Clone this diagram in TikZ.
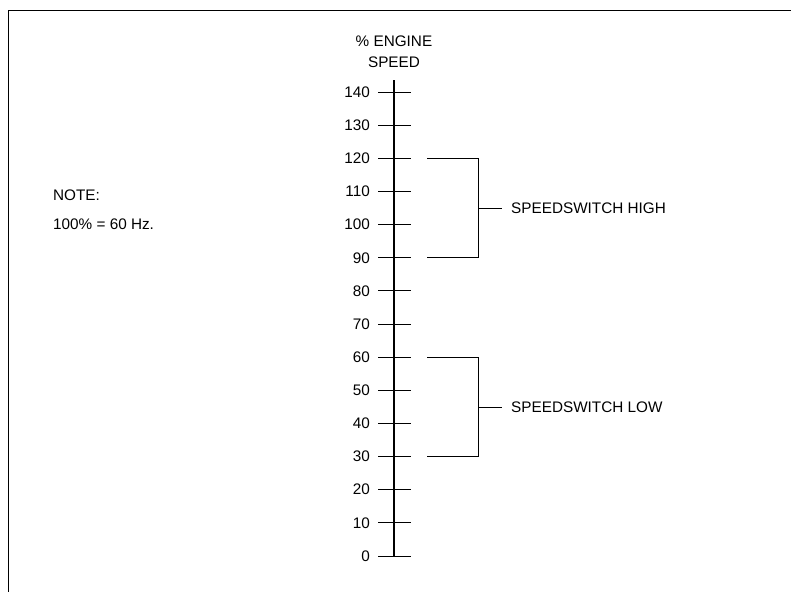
\documentclass[tikz,border=0pt]{standalone}
\usepackage{fontspec}
\setmainfont{Liberation Sans}
\usetikzlibrary{positioning}

\begin{document}
\begin{tikzpicture}[
    x=1pt, y=-1pt,
    axis/.style={line width=1.3pt},
    tick/.style={line width=1pt},
    bracket/.style={line width=1pt},
    num/.style={inner sep=0pt, font=\fontsize{15.3}{18}\selectfont},
    label/.style={anchor=west, inner sep=0pt, font=\fontsize{15.3}{21}\selectfont}
]

\useasboundingbox (0,0) rectangle (791,592);

% Frame
\draw[line width=1pt] (791,10) -- (8,10) -- (8,592);

% Axis
\coordinate (top) at (394,80);
\coordinate (bottom) at (394,556);
\draw[axis] (top) -- (bottom);
\node[num, align=center, font=\fontsize{15.3}{21}\selectfont] (title) at (394,52) {\% ENGINE\\SPEED};

\foreach \v in {0,10,...,140} {
  \coordinate (p\v) at (394,{556-\v*3.314});
  \draw[tick] ([xshift=-16pt]p\v) -- ([xshift=17pt]p\v);
  \node[num, left=24pt of p\v] (n\v) {\v};
}

% Labels
\node[label] (high) at (511,208) {SPEEDSWITCH HIGH};
\node[label] (low) at (511,407) {SPEEDSWITCH LOW};
\node[label] (note) at (53,195) {NOTE:};
\node[label] (ratio) at (53,224) {100\% = 60 Hz.};

% Brackets
\coordinate (himid) at (478,208);
\coordinate (lomid) at (478,407);
\draw[bracket] ([xshift=33pt]p120) -| ([xshift=84pt]p90) -- ([xshift=33pt]p90);
\draw[bracket] (himid) -- ([xshift=-9pt]high.west);
\draw[bracket] ([xshift=33pt]p60) -| ([xshift=84pt]p30) -- ([xshift=33pt]p30);
\draw[bracket] (lomid) -- ([xshift=-9pt]low.west);

\end{tikzpicture}
\end{document}
